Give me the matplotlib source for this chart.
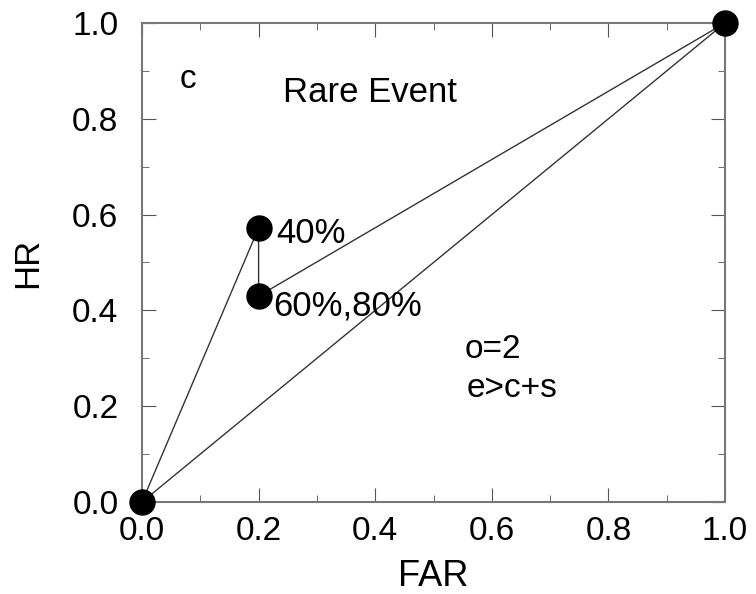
import matplotlib.pyplot as plt
from matplotlib.ticker import MultipleLocator

plt.rcParams['font.family'] = ['Liberation Sans', 'DejaVu Sans']

# ROC points (FAR, HR)
far_pts = [0.0, 0.2, 0.2, 1.0]
hr_pts = [0.0, 0.572, 0.43, 1.0]
# diagonal
far_diag = [0.0, 1.0]
hr_diag = [0.0, 1.0]

fig = plt.figure(figsize=(7.56, 5.94), dpi=100)
ax = fig.add_axes([142 / 756, 1 - 502 / 594, 583 / 756, 479 / 594])

ax.plot(far_pts, hr_pts, color='#333333', lw=1.0, clip_on=False)
ax.plot(far_diag, hr_diag, color='#333333', lw=1.0, clip_on=False)
ax.plot(far_pts, hr_pts, 'o', color='black', ms=18, clip_on=False, zorder=5)

ax.set_xlim(0, 1)
ax.set_ylim(0, 1)
ax.xaxis.set_major_locator(MultipleLocator(0.2))
ax.xaxis.set_minor_locator(MultipleLocator(0.1))
ax.yaxis.set_major_locator(MultipleLocator(0.2))
ax.yaxis.set_minor_locator(MultipleLocator(0.1))
ax.xaxis.set_major_formatter(lambda v, p: f'{v:.1f}')
ax.yaxis.set_major_formatter(lambda v, p: f'{v:.1f}')
ax.tick_params(which='both', direction='in', top=True, right=True, color='#555555')
ax.tick_params(which='major', length=10, labelsize=24)
ax.tick_params(axis='y', which='major', pad=17)
ax.tick_params(axis='x', which='major', pad=10)
ax.tick_params(which='minor', length=5)
for s in ax.spines.values():
    s.set_color('#777777')
    s.set_linewidth(1.5)

ax.set_xlabel('FAR', fontsize=26, labelpad=9)
ax.set_ylabel('HR', fontsize=25, labelpad=20)

ax.text(0.065, 0.864, 'c', fontsize=24, ha='left', va='baseline')
ax.text(0.242, 0.835, 'Rare Event', fontsize=25, ha='left', va='baseline')
ax.text(0.231, 0.541, '40%', fontsize=25, ha='left', va='baseline')
ax.text(0.225, 0.390, '60%,80%', fontsize=25, ha='left', va='baseline')
ax.text(0.554, 0.300, 'o=2', fontsize=24, ha='left', va='baseline')
ax.text(0.557, 0.219, 'e>c+s', fontsize=24, ha='left', va='baseline')

plt.savefig('out.png', dpi=100)
